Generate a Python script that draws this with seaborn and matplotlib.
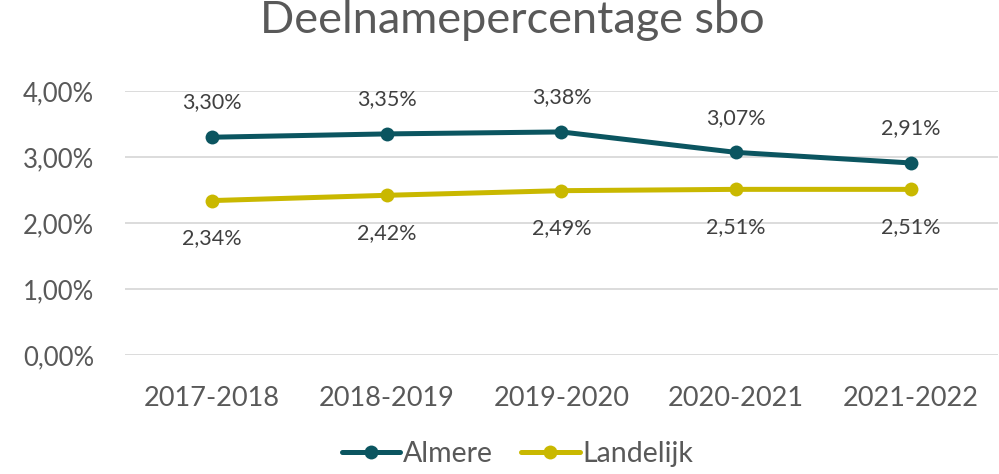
import matplotlib
matplotlib.use("Agg")
import matplotlib.pyplot as plt
import seaborn as sns
import pandas as pd

years = ["2017-2018", "2018-2019", "2019-2020", "2020-2021", "2021-2022"]
almere = [3.30, 3.35, 3.38, 3.07, 2.91]
landelijk = [2.34, 2.42, 2.49, 2.51, 2.51]
series_names = ["Almere", "Landelijk"]
colors = {"Almere": "#0B5560", "Landelijk": "#C9B800"}
yticks = [0, 1, 2, 3, 4]

df = pd.DataFrame({
    "jaar": years * 2,
    "pct": almere + landelijk,
    "regio": [series_names[0]] * len(years) + [series_names[1]] * len(years),
})

sns.set_theme(style="white")
plt.rcParams["font.family"] = ["Lato", "DejaVu Sans"]
text_color = "#595959"

fig = plt.figure(figsize=(9.99, 4.74), dpi=100)
ax = fig.add_axes([0.125, 0.251, 0.874, 0.557])

sns.lineplot(data=df, x="jaar", y="pct", hue="regio", palette=colors,
             marker="o", markersize=10, linewidth=3.6, sort=False,
             markeredgewidth=0, ax=ax)

ax.set_xlim(-0.5, len(years) - 0.5)
ax.set_ylim(0, 4)
ax.set_yticks(yticks)
ax.set_yticklabels([f"{v:.2f}".replace(".", ",") + "%" for v in yticks])
ax.yaxis.grid(True, color="#D9D9D9", linewidth=1.3)
ax.xaxis.grid(False)
for s in ax.spines.values():
    s.set_visible(False)
ax.tick_params(axis="both", length=0, colors=text_color)
ax.tick_params(axis="x", pad=22, labelsize=19.5)
ax.tick_params(axis="y", pad=22, labelsize=18.5)
ax.set_xlabel("")
ax.set_ylabel("")

for i, v in enumerate(almere):
    ax.annotate(f"{v:.2f}".replace(".", ",") + "%", (i, v), xytext=(0, 25),
                textcoords="offset points", ha="center", va="center",
                fontsize=15.5, color="#404040")
for i, v in enumerate(landelijk):
    ax.annotate(f"{v:.2f}".replace(".", ",") + "%", (i, v), xytext=(0, -27),
                textcoords="offset points", ha="center", va="center",
                fontsize=15.5, color="#404040")

fig.suptitle("Deelnamepercentage sbo", x=0.513, y=1.0, va="top",
             fontsize=32.5, color=text_color)

handles, labels = ax.get_legend_handles_labels()
ax.legend_.remove()
fig.legend(handles, labels, loc="lower center", bbox_to_anchor=(0.518, -0.04),
           ncol=2, frameon=False, fontsize=20.5, labelcolor=text_color,
           handlelength=2.05, handletextpad=0.1, columnspacing=1.0)

fig.savefig("out.png", dpi=100, facecolor="white")
